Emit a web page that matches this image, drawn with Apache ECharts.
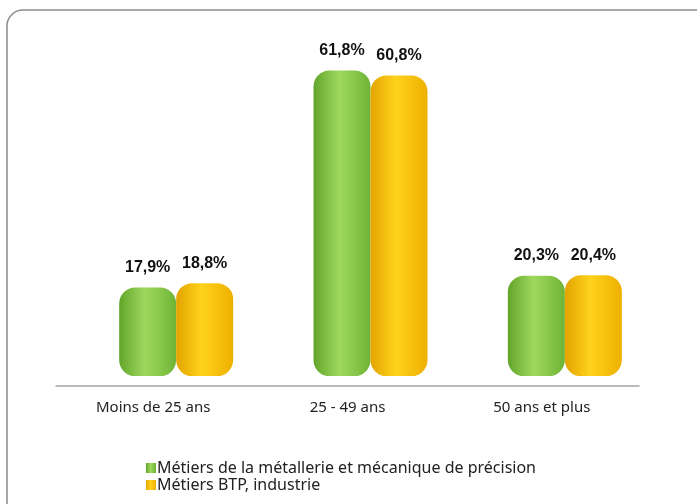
<!DOCTYPE html>
<html>
<head>
<meta charset="utf-8">
<script src="https://cdn.jsdelivr.net/npm/echarts@6/dist/echarts.min.js"></script>
<style>
  html, body { margin: 0; padding: 0; background: #fff; }
  #chart { width: 697px; height: 504px; }
</style>
</head>
<body>
<div id="chart"></div>
<script>
var categories = ['Moins de 25 ans', '25 - 49 ans', '50 ans et plus'];
var seriesNames = ['Métiers de la métallerie et mécanique de précision', 'Métiers BTP, industrie'];
var metallerie = [17.9, 61.8, 20.3];
var btp = [18.8, 60.8, 20.4];

function cylinder(dark, light, mid) {
    return new echarts.graphic.LinearGradient(0, 0, 1, 0, [
        {offset: 0, color: dark},
        {offset: 0.45, color: light},
        {offset: 1, color: mid}
    ]);
}

function pct(p) {
    return p.value.toFixed(1).replace('.', ',') + '%';
}

var myChart = echarts.init(document.getElementById('chart'));
var option = {
    animation: false,
    backgroundColor: '#fff',
    textStyle: {fontFamily: 'Noto Sans'},
    graphic: [{
        type: 'rect',
        shape: {x: 7, y: 10, width: 720, height: 515, r: 16},
        style: {fill: 'none', stroke: '#8c8c8c', lineWidth: 1.5},
        z: -10
    }],
    legend: {
        orient: 'vertical',
        left: 141,
        top: 455,
        icon: 'rect',
        itemWidth: 10,
        itemHeight: 10,
        itemGap: 1,
        textStyle: {fontSize: 16, color: '#222', fontFamily: 'Noto Sans', padding: [0, 0, 0, -4]},
        data: seriesNames
    },
    grid: [
        {left: 56, right: 58, top: 30, bottom: 118},
        {left: 79, right: 35, top: 30, bottom: 118}
    ],
    xAxis: [
        {
            type: 'category',
            gridIndex: 0,
            data: categories,
            axisLine: {onZero: false, lineStyle: {color: '#a6a6a6', width: 1.5}},
            axisTick: {length: 5, lineStyle: {color: '#a6a6a6'}},
            axisLabel: {fontSize: 15, color: '#222', margin: 14}
        },
        {
            type: 'category',
            gridIndex: 1,
            data: categories,
            show: false
        }
    ],
    yAxis: [
        {type: 'value', gridIndex: 0, min: -2, max: 70, show: false},
        {type: 'value', gridIndex: 1, min: -2, max: 70, show: false}
    ],
    series: [
        {
            name: seriesNames[0],
            type: 'bar',
            xAxisIndex: 1,
            yAxisIndex: 1,
            barWidth: 57,
            barGap: '0%',
            data: metallerie,
            itemStyle: {
                color: cylinder('#62a52a', '#9ed95e', '#6fb436'),
                borderRadius: 16
            },
            label: {
                show: true,
                position: 'top',
                distance: 12,
                formatter: pct,
                fontSize: 16,
                fontWeight: 'bold',
                color: '#111',
                fontFamily: 'Liberation Sans'
            }
        },
        {
            name: seriesNames[1],
            type: 'bar',
            xAxisIndex: 1,
            yAxisIndex: 1,
            barWidth: 57,
            data: btp,
            itemStyle: {
                color: cylinder('#e3a400', '#ffd21c', '#eeb000'),
                borderRadius: 16
            },
            label: {
                show: true,
                position: 'top',
                distance: 12,
                formatter: pct,
                fontSize: 16,
                fontWeight: 'bold',
                color: '#111',
                fontFamily: 'Liberation Sans'
            }
        }
    ]
};
myChart.setOption(option);
</script>
</body>
</html>
